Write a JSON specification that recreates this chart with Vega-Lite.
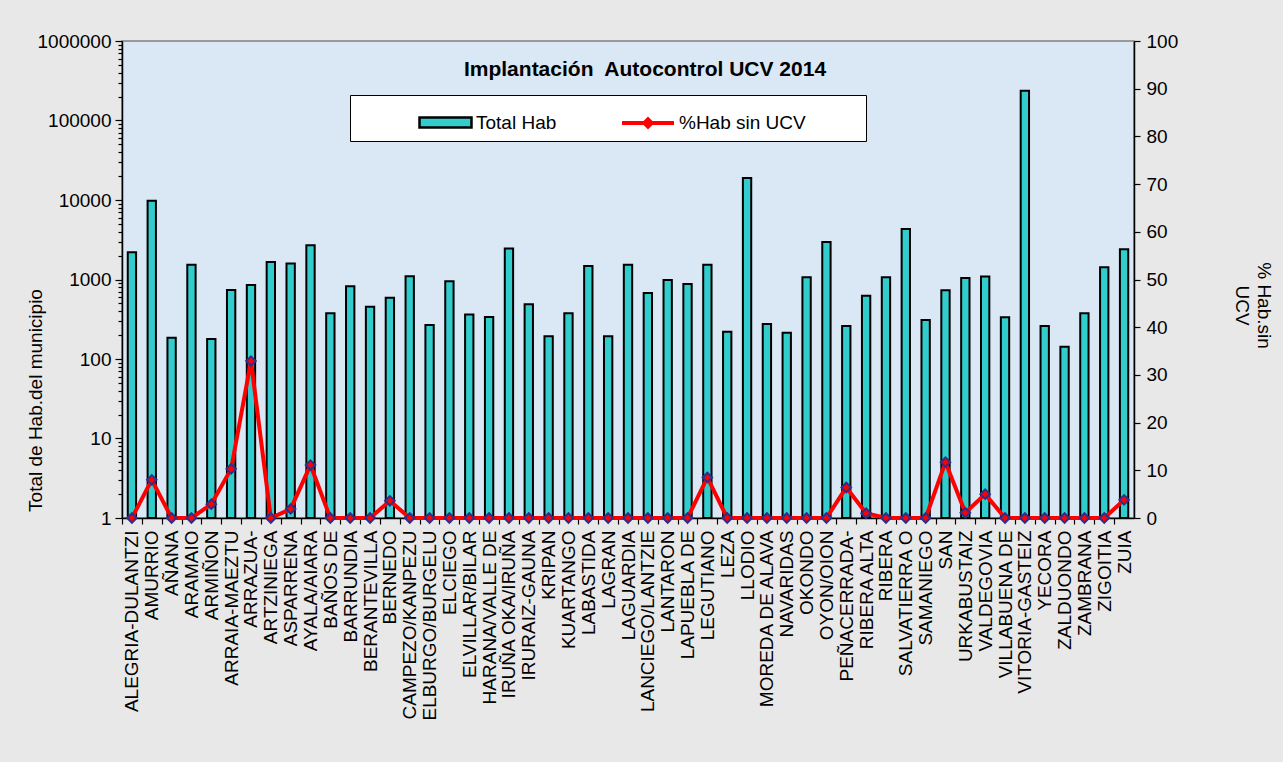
{
  "$schema": "https://vega.github.io/schema/vega-lite/v6.json",
  "width": 1012,
  "height": 477,
  "autosize": {"type": "none"},
  "padding": {"left": 122, "top": 41, "right": 149, "bottom": 244},
  "background": "#e8e8e8",
  "config": {
    "view": {"fill": "#dae7f4", "stroke": "#808080", "strokeWidth": 1.5},
    "font": "Liberation Sans",
    "axis": {
      "labelFont": "Liberation Sans",
      "titleFont": "Liberation Sans",
      "labelColor": "black",
      "titleColor": "black",
      "domainColor": "black",
      "tickColor": "black",
      "grid": false,
      "labelFontSize": 19,
      "titleFontSize": 19,
      "titleFontWeight": "normal",
      "domainWidth": 1.5,
      "tickWidth": 1.2
    },
    "legend": {
      "labelFont": "Liberation Sans",
      "labelFontSize": 19,
      "labelColor": "black"
    }
  },
  "title": {
    "text": "Implantación\u00a0 Autocontrol UCV 2014",
    "font": "Liberation Sans",
    "fontSize": 21,
    "fontWeight": "bold",
    "color": "black",
    "anchor": "middle",
    "frame": "group",
    "orient": "top",
    "baseline": "alphabetic",
    "offset": -65,
    "dx": 17
  },
  "data": {
    "values": [
      {"name": "ALEGRIA-DULANTZI", "total": 2200, "pct": 0},
      {"name": "AMURRIO", "total": 9800, "pct": 8.0},
      {"name": "AÑANA", "total": 185, "pct": 0},
      {"name": "ARAMAIO", "total": 1535, "pct": 0},
      {"name": "ARMIÑON", "total": 178, "pct": 2.9},
      {"name": "ARRAIA-MAEZTU", "total": 738, "pct": 10.3},
      {"name": "ARRAZUA-", "total": 852, "pct": 32.9},
      {"name": "ARTZINIEGA", "total": 1660, "pct": 0},
      {"name": "ASPARRENA", "total": 1590, "pct": 1.9},
      {"name": "AYALA/AIARA", "total": 2690, "pct": 11.1},
      {"name": "BAÑOS DE", "total": 376, "pct": 0},
      {"name": "BARRUNDIA", "total": 820, "pct": 0},
      {"name": "BERANTEVILLA", "total": 455, "pct": 0},
      {"name": "BERNEDO", "total": 590, "pct": 3.6},
      {"name": "CAMPEZO/KANPEZU", "total": 1100, "pct": 0},
      {"name": "ELBURGO/BURGELU", "total": 268, "pct": 0},
      {"name": "ELCIEGO", "total": 950, "pct": 0},
      {"name": "ELVILLAR/BILAR", "total": 362, "pct": 0},
      {"name": "HARANA/VALLE DE", "total": 337, "pct": 0},
      {"name": "IRUÑA OKA/IRUÑA", "total": 2460, "pct": 0},
      {"name": "IRURAIZ-GAUNA", "total": 488, "pct": 0},
      {"name": "KRIPAN", "total": 193, "pct": 0},
      {"name": "KUARTANGO", "total": 376, "pct": 0},
      {"name": "LABASTIDA", "total": 1480, "pct": 0},
      {"name": "LAGRAN", "total": 193, "pct": 0},
      {"name": "LAGUARDIA", "total": 1535, "pct": 0},
      {"name": "LANCIEGO/LANTZIE", "total": 676, "pct": 0},
      {"name": "LANTARON", "total": 986, "pct": 0},
      {"name": "LAPUEBLA DE", "total": 875, "pct": 0},
      {"name": "LEGUTIANO", "total": 1535, "pct": 8.5},
      {"name": "LEZA", "total": 220, "pct": 0},
      {"name": "LLODIO", "total": 18900, "pct": 0},
      {"name": "MOREDA DE ALAVA", "total": 276, "pct": 0},
      {"name": "NAVARIDAS", "total": 214, "pct": 0},
      {"name": "OKONDO", "total": 1070, "pct": 0},
      {"name": "OYON/OION", "total": 2970, "pct": 0},
      {"name": "PEÑACERRADA-", "total": 260, "pct": 6.4},
      {"name": "RIBERA ALTA", "total": 626, "pct": 1.0},
      {"name": "RIBERA", "total": 1070, "pct": 0},
      {"name": "SALVATIERRA O", "total": 4310, "pct": 0},
      {"name": "SAMANIEGO", "total": 310, "pct": 0},
      {"name": "SAN", "total": 731, "pct": 11.7},
      {"name": "URKABUSTAIZ", "total": 1045, "pct": 1.1},
      {"name": "VALDEGOVIA", "total": 1090, "pct": 5.0},
      {"name": "VILLABUENA DE", "total": 335, "pct": 0},
      {"name": "VITORIA-GASTEIZ", "total": 237000, "pct": 0},
      {"name": "YECORA", "total": 260, "pct": 0},
      {"name": "ZALDUONDO", "total": 143, "pct": 0},
      {"name": "ZAMBRANA", "total": 376, "pct": 0},
      {"name": "ZIGOITIA", "total": 1425, "pct": 0},
      {"name": "ZUIA", "total": 2400, "pct": 3.8}
    ]
  },
  "layer": [
    {
      "mark": {"type": "bar", "stroke": "black", "strokeWidth": 2},
      "encoding": {
        "x": {
          "field": "name",
          "type": "nominal",
          "sort": null,
          "scale": {"paddingInner": 0.58, "paddingOuter": 0.29},
          "axis": {
            "title": null,
            "labelAngle": -90,
            "labelFontSize": 19,
            "labelPadding": 6,
            "labelLimit": 400,
            "labelOverlap": false,
            "tickSize": 6,
            "tickOffset": -9.92,
            "labelOffset": 9.92
          }
        },
        "y": {
          "field": "total",
          "type": "quantitative",
          "scale": {"type": "log", "domain": [1, 1000000]},
          "axis": {
            "title": "Total  de Hab.del municipio",
            "values": [1,2,3,4,5,6,7,8,9,10,20,30,40,50,60,70,80,90,100,200,300,400,500,600,700,800,900,1000,2000,3000,4000,5000,6000,7000,8000,9000,10000,20000,30000,40000,50000,60000,70000,80000,90000,100000,200000,300000,400000,500000,600000,700000,800000,900000,1000000],
            "format": "d",
            "labelExpr": "test(regexp('^10*$'), datum.label) ? datum.label : ''",
            "tickSize": {"condition": {"test": "test(regexp('^10*$'), format(datum.value, 'd'))", "value": 7}, "value": 4},
            "labelOverlap": false,
            "labelPadding": 4,
            "titleX": -87,
            "titleY": 359,
            "titleAngle": -90,
            "titleAlign": "center",
            "titleBaseline": "middle"
          }
        },
        "y2": {"datum": 1},
        "fill": {
          "datum": "Total Hab",
          "type": "nominal",
          "scale": {"domain": ["Total Hab"], "range": ["#33CCCC"]},
          "legend": {
            "orient": "none",
            "legendX": 228,
            "legendY": 54,
            "direction": "horizontal",
            "title": " ",
            "titleOrient": "right",
            "titlePadding": 302,
            "fillColor": "white",
            "strokeColor": "black",
            "padding": 8,
            "symbolSize": 1296,
            "symbolType": "M-1.444,-0.278H1.444V0.278H-1.444Z",
            "symbolStrokeColor": "black",
            "symbolStrokeWidth": 2.5,
            "symbolOpacity": 1,
            "labelOffset": 11,
            "symbolOffset": 68
          }
        }
      }
    },
    {
      "encoding": {
        "x": {"field": "name", "type": "nominal", "sort": null},
        "y": {
          "field": "pct",
          "type": "quantitative",
          "scale": {"domain": [0, 100]},
          "axis": {
            "orient": "right",
            "title": ["% Hab.sin", "UCV"],
            "values": [0,10,20,30,40,50,60,70,80,90,100],
            "tickSize": 6,
            "labelPadding": 6,
            "titleAngle": 90,
            "titleX": 129,
            "titleY": 264,
            "titleAlign": "center",
            "titleBaseline": "middle",
            "titleLineHeight": 22
          }
        }
      },
      "layer": [
        {
          "mark": {"type": "line", "strokeWidth": 4},
          "encoding": {
            "stroke": {
              "datum": "%Hab sin UCV",
              "type": "nominal",
              "scale": {"domain": ["%Hab sin UCV"], "range": ["#FF0000"]},
              "legend": {
                "orient": "none",
                "legendX": 498,
                "legendY": 54,
                "direction": "horizontal",
                "title": null,
                "padding": 8,
                "symbolSize": 1296,
                "symbolType": "M-1.444,0H1.444M0,-0.2L0.2,0L0,0.2L-0.2,0Z",
                "symbolStrokeWidth": 4,
                "symbolOpacity": 1,
                "labelOffset": 11,
                "symbolOffset": 0
              }
            }
          }
        },
        {"mark": {"type": "point", "shape": "diamond", "filled": true, "fill": "#FF0000", "size": 90, "stroke": "#2e2e8c", "strokeWidth": 2, "opacity": 1}}
      ]
    }
  ],
  "resolve": {"scale": {"y": "independent"}}
}
